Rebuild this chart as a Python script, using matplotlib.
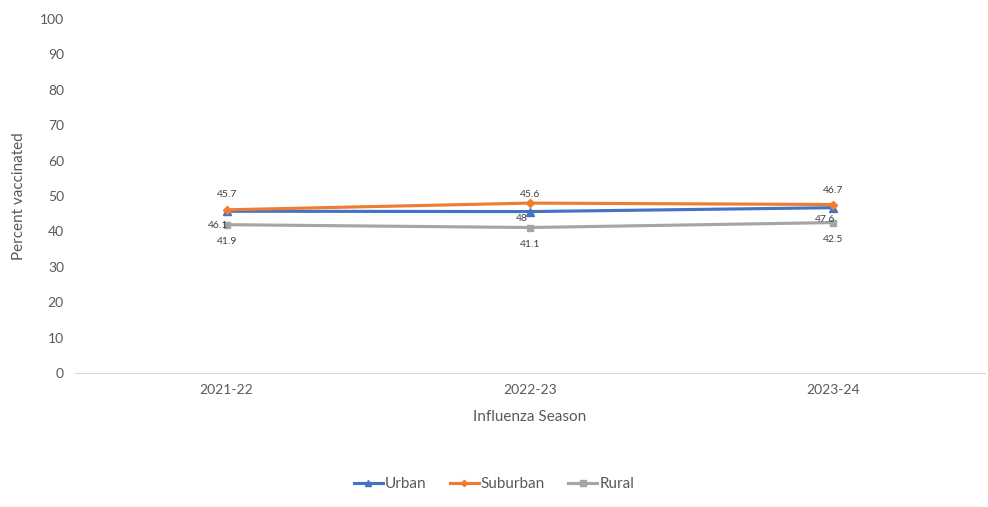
import matplotlib
matplotlib.use("Agg")
import matplotlib.pyplot as plt

seasons = ["2021-22", "2022-23", "2023-24"]
urban = [45.7, 45.6, 46.7]
suburban = [46.1, 48, 47.6]
rural = [41.9, 41.1, 42.5]
yticks = list(range(0, 101, 10))

plt.rcParams['font.family'] = ['Lato', 'DejaVu Sans']

fig = plt.figure(figsize=(9.88, 5.07), dpi=100)
ax = fig.add_axes([0.0759, 0.2643, 0.921, 0.6982])
x = list(range(len(seasons)))

ax.plot(x, urban, color="#4472C4", lw=2.25, marker="^", ms=6, label="Urban", zorder=3)
ax.plot(x, suburban, color="#ED7D31", lw=2.25, marker="D", ms=4, label="Suburban", zorder=4)
ax.plot(x, rural, color="#A5A5A5", lw=2.25, marker="s", ms=5, label="Rural", zorder=2)

for i in x:
    ax.annotate(f"{urban[i]:g}", (i, urban[i]), xytext=(0, 9), textcoords="offset points",
                ha="center", va="bottom", fontsize=7.5, color="#404040")
    ax.annotate(f"{suburban[i]:g}", (i, suburban[i]), xytext=(-6, -11), textcoords="offset points",
                ha="center", va="center", fontsize=7.5, color="#404040")
    ax.annotate(f"{rural[i]:g}", (i, rural[i]), xytext=(0, -9), textcoords="offset points",
                ha="center", va="top", fontsize=7.5, color="#404040")

ax.set_xlim(-0.5, 2.5)
ax.set_ylim(0, 100)
ax.set_yticks(yticks)
ax.set_xticks(x)
ax.set_xticklabels(seasons)
for s in ["top", "right", "left"]:
    ax.spines[s].set_visible(False)
ax.spines["bottom"].set_color("#D9D9D9")
ax.tick_params(axis="both", length=0, labelsize=10, colors="#595959", pad=8)
ax.set_xlabel("Influenza Season", fontsize=11, color="#595959", labelpad=10)
ax.set_ylabel("Percent vaccinated", fontsize=11, color="#595959", labelpad=10)

handles, labels = ax.get_legend_handles_labels()
leg = fig.legend(handles, labels, loc="center", bbox_to_anchor=(0.5, 1 - 484 / 507), ncol=3,
                 frameon=False, fontsize=11, handlelength=1.9, columnspacing=1.5,
                 handletextpad=0.15, markerscale=0.8)
for t in leg.get_texts():
    t.set_color("#595959")

fig.savefig("out.png", dpi=100)
